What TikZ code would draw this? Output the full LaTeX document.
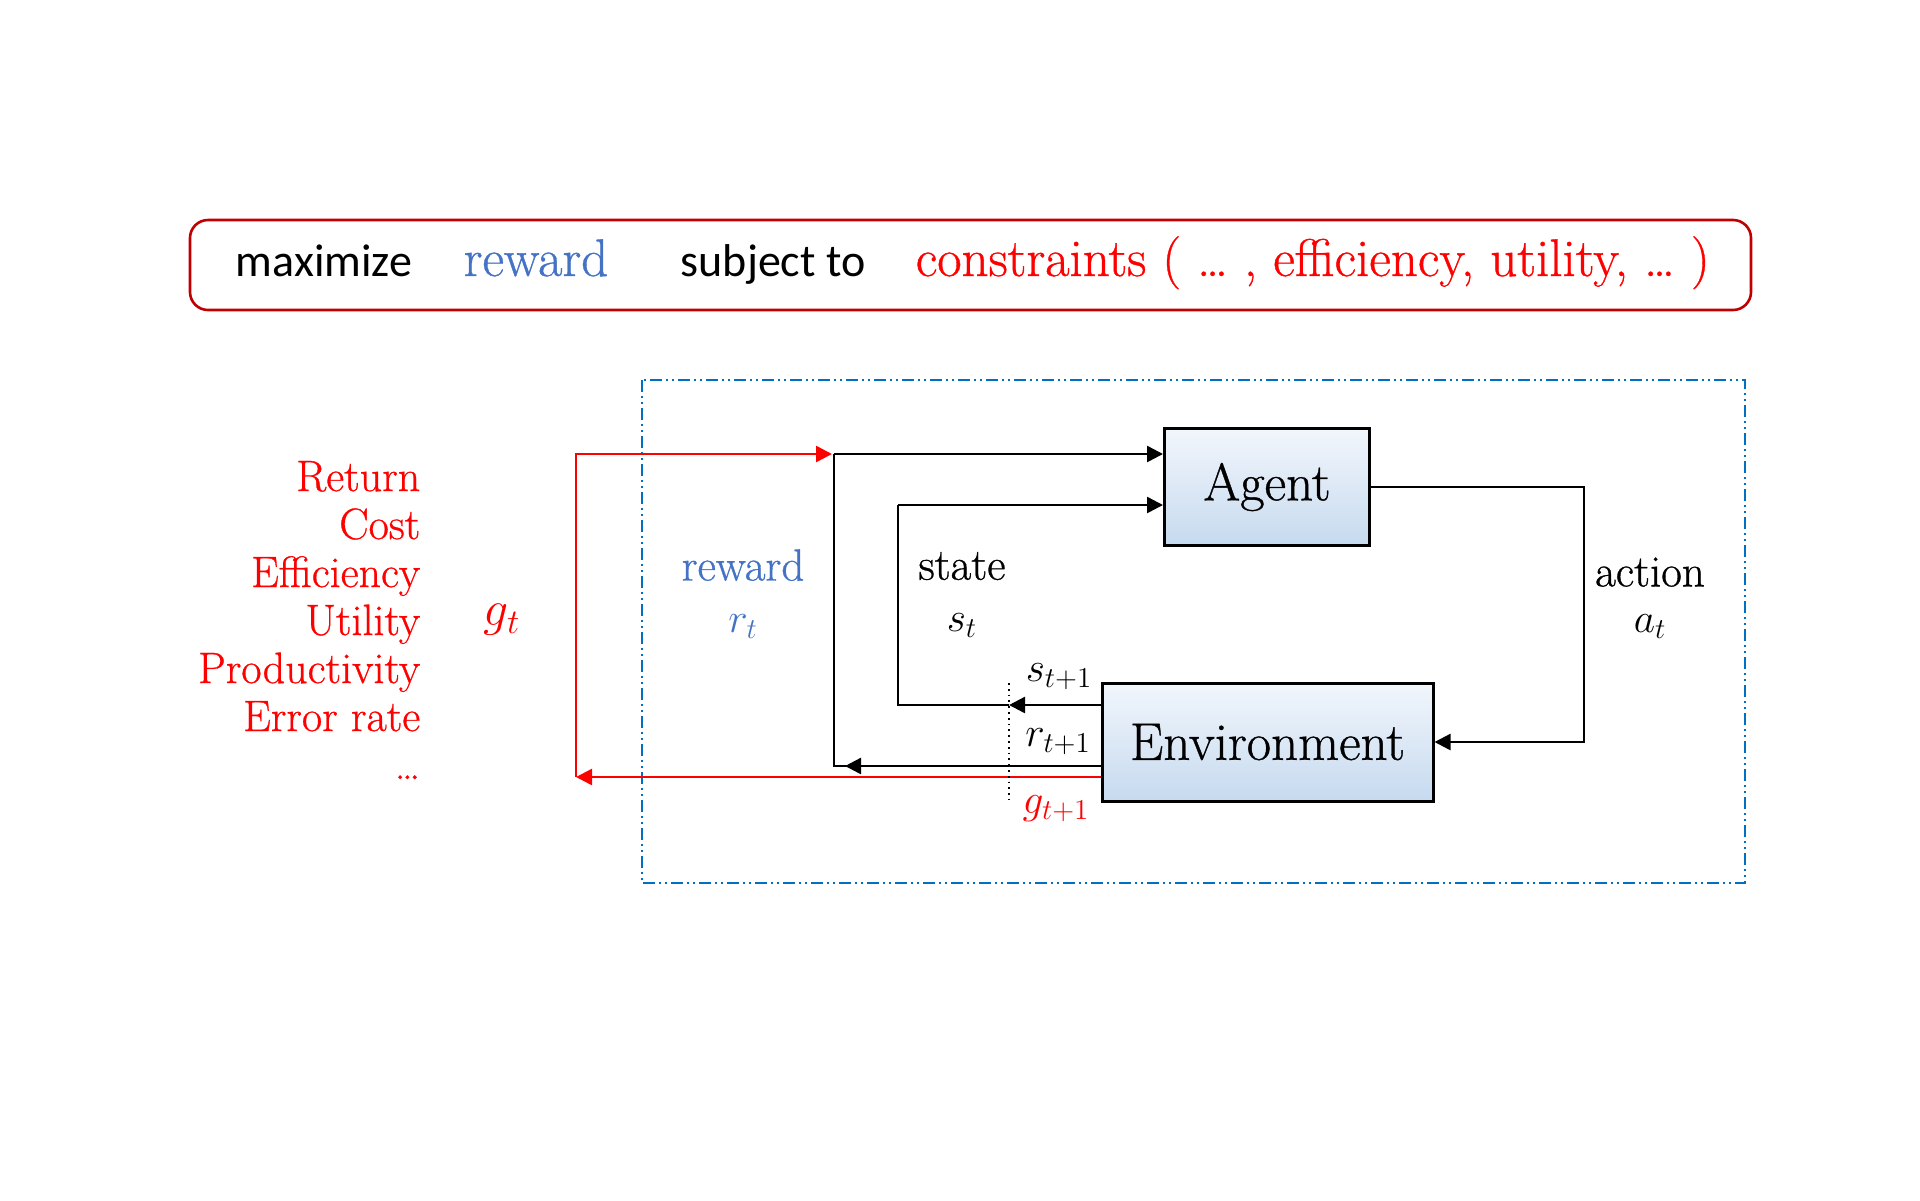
\documentclass[tikz,border=0pt]{standalone}
\usepackage{fontspec}
\setmainfont{Latin Modern Roman}[FakeBold=0.7]
\newfontfamily\calibrifont{Carlito}
\usetikzlibrary{arrows.meta,positioning,calc}
\definecolor{darkred}{HTML}{C00000}
\definecolor{lineblue}{HTML}{0070C0}
\definecolor{wordblue}{HTML}{4472C4}
\definecolor{boxtop}{HTML}{F2F6FC}
\definecolor{boxmid}{HTML}{ACC8E6}
\definecolor{boxbot}{HTML}{C6DAEF}
\tikzset{every picture/.style={line width=0.75pt}}

\begin{document}
\begin{tikzpicture}[x=0.5pt,y=-0.5pt,
    block/.style={draw,line width=1.5pt,top color=boxtop,middle color=boxmid,bottom color=boxbot,
      inner sep=0pt,font=\fontsize{26.5}{30}\selectfont},
    conn/.style={line width=1.25pt},
    thinconn/.style={line width=0.6pt},
    redconn/.style={line width=1.25pt,red},
    arr/.style={-{Triangle[length=8pt,width=8pt]}},
    lbl/.style={align=center,font=\fontsize{22.5}{26}\selectfont},
    sub/.style={font=\fontsize{21}{24}\selectfont},
    goalword/.style={anchor=base west,inner sep=0pt,font=\fontsize{26.5}{30}\selectfont}]
    \useasboundingbox (0,0) rectangle (1920,1200);

    % Objective
    \draw[darkred,line width=1.3pt,rounded corners=9pt] (190,220) rectangle (1751,310);
    \node[goalword,font=\calibrifont\fontsize{23}{28}\selectfont] (maxw) at (235,276) {maximize};
    \node[goalword,text=wordblue] (rwdw) at (463,276) {reward};
    \node[goalword,font=\calibrifont\fontsize{23}{28}\selectfont] (subj) at (680,276) {subject to};
    \node[goalword,text=red] (cons) at (915,276) {constraints ( \dots\ , efficiency, utility, \dots\ )};

    % Frame of the loop
    \draw[lineblue,line width=0.8pt,dash pattern=on 6pt off 2pt on 1pt off 2pt on 1pt off 2pt]
        (642,380) rectangle (1745,883);

    % Blocks
    \node[block,minimum width=102.5pt,minimum height=58.5pt] (agent) at (1267,487) {Agent};
    \node[block,minimum width=165.5pt,minimum height=59pt] (env) at (1267.5,742) {Environment};

    % Corners
    \coordinate (div) at (1009,683);
    \coordinate (rtop) at (834,454);
    \coordinate (rbot) at (834,766);
    \coordinate (stop) at (898,505);
    \coordinate (sbot) at (898,705);
    \coordinate (gbot) at (576,777);

    % Action
    \draw[conn,arr] (agent.east) -- ++(213,0) |- (env.east);

    % State
    \draw[conn,arr] (env.west |- sbot) -- (div |- sbot);
    \draw[thinconn] (div |- sbot) -- (sbot) -- (stop);
    \draw[conn,arr] (stop) -- (agent.west |- stop);

    % Reward
    \draw[thinconn] (env.west |- rbot) -- (div |- rbot);
    \draw[conn] (div |- rbot) -- (rbot) -- (rtop);
    \draw[conn,arr] (div |- rbot) -- ++(-164,0);
    \draw[conn,arr] (rtop) -- (agent.west |- rtop);

    % Goal signal
    \draw[redconn,arr] (env.west |- gbot) -- (gbot);
    \draw[redconn,arr,shorten >=1pt] (gbot) |- (rtop);

    % Time step divider
    \draw[dotted,line width=0.9pt] (div) -- (div |- 0,800);

    % Labels
    \node[lbl,text=wordblue] (rwdlbl) at (743,594) {reward\\$r_t$};
    \node[lbl] (statelbl) at (962,595) {state\\$s_t$};
    \node[lbl,font=\fontsize{22.5}{23}\selectfont] (actlbl) at (1650,598) {action\\$a_t$};
    \node[sub,text=red,font=\fontsize{24}{26}\selectfont] (gt) at (502,620) {$g_t$};
    \node[sub] (snext) at (1059,677) {$s_{t+1}$};
    \node[sub] (rnext) at (1058,742) {$r_{t+1}$};
    \node[sub,text=red] (gnext) at (1056,809) {$g_{t+1}$};

    % Goal measures
    \node[anchor=east,align=right,text=red,inner sep=0pt,font=\fontsize{22}{24}\selectfont] (metrics)
        at (421,620) {Return\\Cost\\Efficiency\\Utility\\Productivity\\Error rate\\\dots};
\end{tikzpicture}
\end{document}
